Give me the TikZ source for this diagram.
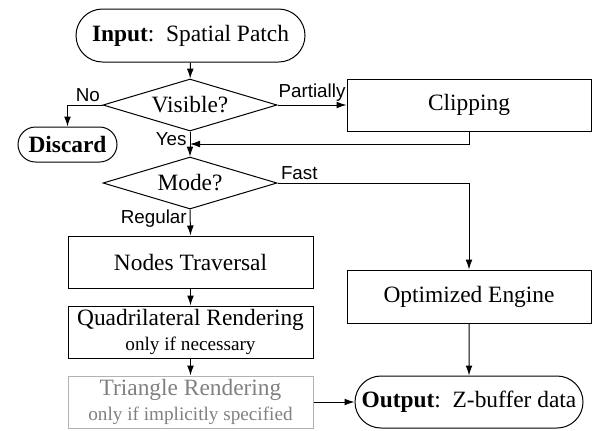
\documentclass[tikz,border=0pt]{standalone}
\usepackage{fontspec}
\setmainfont{Liberation Serif}
\newfontfamily\labelfont{Liberation Sans}
\usetikzlibrary{shapes.geometric,shapes.misc,arrows.meta,calc}
\newcommand\boxfont{\fontsize{11.7}{12.5}\selectfont}
\newcommand\notefont{\fontsize{9.6}{12.5}\selectfont}

\begin{document}
\begin{tikzpicture}[x=0.5pt,y=-0.5pt,line width=0.5pt,>={Latex[length=5pt,width=3.4pt]},
  terminal/.style={rounded rectangle,draw,minimum height=26.5pt,inner xsep=4pt,font=\boxfont},
  decision/.style={diamond,draw,aspect=3.3,inner sep=0pt,minimum width=87pt,minimum height=26pt,font=\boxfont},
  process/.style={rectangle,draw,minimum width=122.5pt,minimum height=26pt,inner ysep=0.5pt,align=center,font=\boxfont},
  choice/.style={font=\labelfont\fontsize{9.4}{11}\selectfont,inner sep=1.5pt}]
\useasboundingbox (0,0) rectangle (592,430);
% left column
\node[terminal,minimum width=122.5pt] (input) at (190.5,35.5) {\textbf{Input}:\ \ Spatial Patch};
\node[decision] (visible) at (190,105) {Visible?};
\node[terminal,minimum width=51.5pt,minimum height=17.5pt,inner sep=1pt] (discard) at (67.5,144.5) {\textbf{Discard}};
\node[decision] (mode) at (190,183) {Mode?};
\node[process] (traversal) at (190.5,262) {Nodes Traversal};
\node[process] (quad) at (190.5,332) {Quadrilateral Rendering\\{\notefont only if necessary}};
\node[process,draw=black!30,text=black!50] (tri) at (190.5,402) {Triangle Rendering\\{\notefont only if implicitly specified}};
% right column
\node[process,minimum width=122pt] (clipping) at (469,105) {Clipping};
\node[process,minimum width=122pt,minimum height=26.5pt] (engine) at (469,296.5) {Optimized Engine};
\node[terminal,minimum width=122pt,minimum height=26pt] (output) at (469,402) {\textbf{Output}:\ \ Z-buffer data};
\coordinate (merge) at ($(visible.south)!0.5!(mode.north)$);
% connectors
\draw[->] (input) -- (visible);
\draw[->] (visible.west) -| node[choice,pos=0.21,above] {No} (discard.north);
\draw[->] (visible.east) -- node[choice,midway,above] {Partially} (clipping.west);
\draw[->] (clipping.south) |- (merge);
\draw[->] (visible.south) -- node[choice,pos=0.3,left] {Yes} (mode.north);
\draw[->] (mode.east) -| node[choice,pos=0,above right] {Fast} (engine.north);
\draw[->] (mode.south) -- node[choice,pos=0.35,left] {Regular} (traversal.north);
\draw[->] (traversal) -- (quad);
\draw[->] (quad) -- (tri);
\draw[->] (tri) -- (output);
\draw[->] (engine) -- (output);
\end{tikzpicture}
\end{document}
